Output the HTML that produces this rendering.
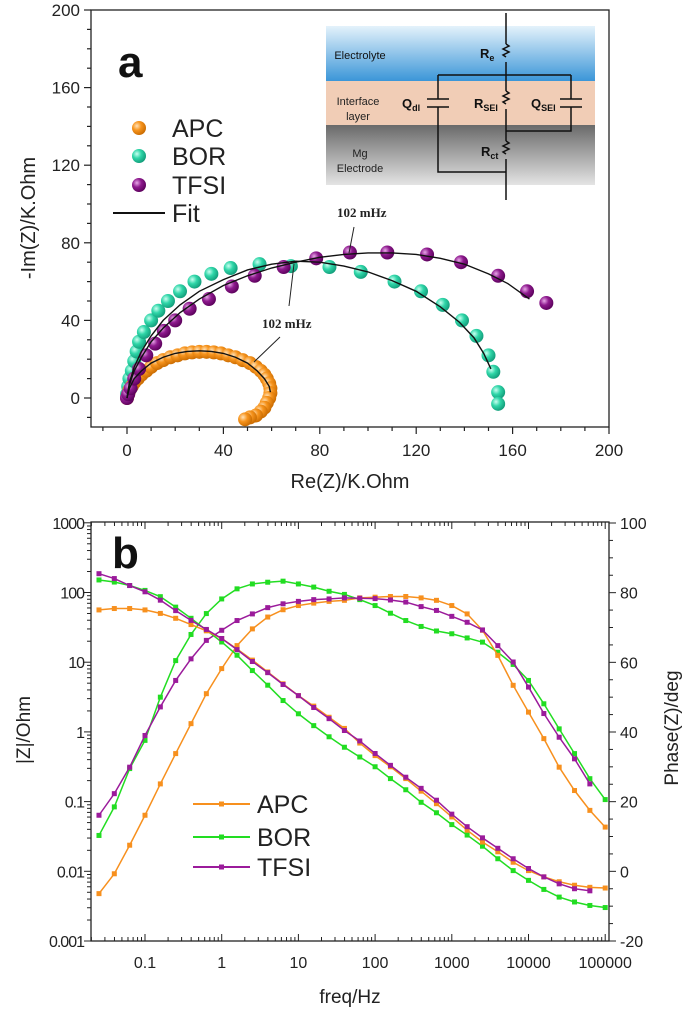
<!DOCTYPE html>
<html><head><meta charset="utf-8"><style>
body{margin:0;background:#fff}
svg{display:block;font-family:"Liberation Sans",sans-serif}
</style></head><body>
<svg id="fig" width="685" height="1010" viewBox="0 0 685 1010">
<defs>
<radialGradient id="gA" cx="0.35" cy="0.35" r="0.7"><stop offset="0" stop-color="#ffe2b8"/><stop offset="0.45" stop-color="#f7941d"/><stop offset="1" stop-color="#c86a00"/></radialGradient>
<radialGradient id="gB" cx="0.35" cy="0.35" r="0.7"><stop offset="0" stop-color="#c8fff0"/><stop offset="0.45" stop-color="#2fd6a8"/><stop offset="1" stop-color="#119a78"/></radialGradient>
<radialGradient id="gT" cx="0.35" cy="0.35" r="0.7"><stop offset="0" stop-color="#e8a8e8"/><stop offset="0.45" stop-color="#8e1a8e"/><stop offset="1" stop-color="#5a005a"/></radialGradient>
<linearGradient id="elec" x1="0" y1="0" x2="0" y2="1"><stop offset="0" stop-color="#e4f2fb"/><stop offset="1" stop-color="#3b96d8"/></linearGradient>
<linearGradient id="mg" x1="0" y1="0" x2="0" y2="1"><stop offset="0" stop-color="#6a6a6a"/><stop offset="1" stop-color="#e4e4e4"/></linearGradient>
</defs>
<g id="topPanel"></g>
<g id="botPanel"></g>
</svg>
<script>
// ---------- Nyquist data (panel a) ----------
const apcRe=[0,0.5,1,2,3,4.5,6,8,10,12.5,15,18,21,24,27,30,33,36,39,42,45,48,51,53.5,55.5,57,58,59,59.5,59.5,59,58,57,55.5,53.5,51,49];
const apcIm=[0,2,4,6,8,10,12,14,16,18,19.5,21,22,23,23.5,23.8,23.8,23.5,23,22,21,19.5,18,16,14,12,10,7.5,5,2.5,0,-2.5,-5,-7,-9,-10,-11];
const borRe=[0,0.5,1,2,3,4,5,7,10,13,17,22,28,35,43,55,68,84,97,111,122,131,139,145,150,152,154,154];
const borIm=[2,6,10,14,19,24,29,34,40,45,50,55,60,64,67,69,68,67.5,65,60,55,48,40,32,22,13.5,3,-3];
const tfsiRe=[0,0.5,1.5,3,5,8,11.7,15.3,20,26,34,43.5,53,65,78.5,92.5,108,124.5,138.6,154,166,174];
const tfsiIm=[0,2,5,10,15,22,28,34.6,40,46,51,57.5,63,67.5,72,75,75,74,70,63,55,49];
const fitApcRe=[0,1,3,6,10,15,20,25,30,35,40,45,50,54,57,59,59.5];
const fitApcIm=[0,5,10,14,18,21,23,24,24.3,24,23,21,18,14,10,6,3];
const fitBorRe=[0,1,3,6,10,15,22,30,40,50,60,70,80,90,100,110,120,130,138,144,148,151];
const fitBorIm=[0,8,16,24,32,40,48,55,61,66,69,70.5,70,68,65,60.5,55,47,39,31,23,15];
const fitTfsiRe=[0,1,3,6,10,15,22,30,40,50,60,70,80,90,100,110,120,130,140,150,158,167];
const fitTfsiIm=[0,7,14,21,29,36,44,51,58,63,67,70,72.5,74,74.8,74.8,74,72,69,64,59,51];
const nyTicks=[0,40,80,120,160,200];

// ---------- Bode data (panel b) ----------
const logFreq=[-1.6,-1.4,-1.2,-1.0,-0.8,-0.6,-0.4,-0.2,0,0.2,0.4,0.6,0.8,1.0,1.2,1.4,1.6,1.8,2.0,2.2,2.4,2.6,2.8,3.0,3.2,3.4,3.6,3.8,4.0,4.2,4.4,4.6,4.8,5.0];
const apcLogZ=[1.75,1.77,1.77,1.75,1.70,1.63,1.54,1.45,1.34,1.19,1.03,0.86,0.69,0.52,0.37,0.21,0.05,-0.16,-0.34,-0.50,-0.67,-0.85,-1.03,-1.22,-1.41,-1.58,-1.72,-1.87,-1.99,-2.08,-2.15,-2.20,-2.23,-2.24];
const borLogZ=[2.18,2.15,2.10,2.03,1.94,1.79,1.63,1.46,1.29,1.10,0.88,0.67,0.45,0.26,0.09,-0.07,-0.22,-0.36,-0.50,-0.67,-0.83,-1.01,-1.16,-1.33,-1.48,-1.64,-1.82,-1.99,-2.13,-2.26,-2.37,-2.44,-2.49,-2.52];
const tfsiLogZ=[2.27,2.20,2.10,2.01,1.89,1.74,1.60,1.47,1.34,1.18,1.01,0.85,0.68,0.52,0.35,0.19,0.02,-0.13,-0.31,-0.48,-0.65,-0.81,-0.98,-1.18,-1.36,-1.52,-1.67,-1.82,-1.96,-2.08,-2.18,-2.25,-2.28];
const apcPhase=[-6.4,-0.7,7.5,16.1,25.1,33.8,42.4,51,58.2,64.8,69.6,73,75.1,76.3,77,77.5,77.8,78.5,78.7,78.9,78.9,78.5,77.8,76.3,73.9,69.2,62,53.4,45.7,38.1,29.9,23.2,17.5,12.7];
const borPhase=[10.3,18.5,29.5,37.6,50,60.5,68,74,78.2,81.1,82.5,83,83.3,82.5,81.6,80.4,79.5,78,76.3,74.1,72,70.3,69,68.2,67,65.8,62.9,59.4,54.8,48.1,40.9,33.8,26.6,20.6];
const tfsiPhase=[16.1,22.3,29.9,39,47.2,54.8,61,66.3,69.2,72,73.9,75.7,76.8,77.5,78,78.2,78.5,78.4,78.3,77.9,77.3,76,74.9,73.2,71.5,69.3,64.8,60.1,52.9,45.3,38.5,32.3,25.1];
const zTickLabels=["0.001","0.01","0.1","1","10","100","1000"];
const phTicks=[-20,0,20,40,60,80,100];
const fTickLabels=["0.1","1","10","100","1000","10000","100000"];

const NS="http://www.w3.org/2000/svg";
function mk(tag,attrs,parent,text){const e=document.createElementNS(NS,tag);for(const k in attrs)e.setAttribute(k,attrs[k]);if(text!==undefined)e.textContent=text;parent.appendChild(e);return e;}
const topG=document.getElementById('topPanel'), botG=document.getElementById('botPanel');

// ===== panel a =====
const ax=v=>127+v*2.41, ay=v=>398-v*1.94;
const inset=mk('g',{},topG);


mk('rect',{x:326,y:26,width:269,height:55,fill:'url(#elec)'},inset);
mk('rect',{x:326,y:81,width:269,height:44,fill:'#f1cdb6'},inset);
mk('rect',{x:326,y:125,width:269,height:60,fill:'url(#mg)'},inset);
mk('text',{x:360,y:59,'font-size':11,'text-anchor':'middle',fill:'#111'},inset,'Electrolyte');
mk('text',{x:358,y:105,'font-size':11,'text-anchor':'middle',fill:'#222'},inset,'Interface');
mk('text',{x:358,y:120,'font-size':11,'text-anchor':'middle',fill:'#222'},inset,'layer');
mk('text',{x:360,y:157,'font-size':11,'text-anchor':'middle',fill:'#222'},inset,'Mg');
mk('text',{x:360,y:172,'font-size':11,'text-anchor':'middle',fill:'#222'},inset,'Electrode');
const w={stroke:'#111','stroke-width':1.5,fill:'none'};
function zig(x,y){return `M${x},${y-9} l3,2 l-6,3 l6,3 l-6,3 l3,2`;}
mk('path',Object.assign({d:'M506,13 V44 M506,62 V91 M506,109 V141 M506,159 V200'},w),inset);
mk('path',Object.assign({d:zig(506,53)+' '+zig(506,100)+' '+zig(506,150)},w),inset);
mk('path',Object.assign({d:'M438,75 H571 M438,75 V99 M438,107 V172 H506 M571,75 V99 M571,107 V131 H506'},w),inset);
mk('path',Object.assign({d:'M427,99 H449 M427,107 H449 M560,99 H582 M560,107 H582'},w),inset);
function lab(x,y,m,s){const t=mk('text',{x:x,y:y,'font-size':13,'font-weight':'bold',fill:'#111'},inset,m);mk('tspan',{'font-size':9,dy:3},t,s);}
lab(480,58,'R','e');lab(402,108,'Q','dl');lab(474,108,'R','SEI');lab(531,108,'Q','SEI');lab(481,156,'R','ct');

const fa=mk('rect',{x:91,y:10,width:518,height:417,fill:'none',stroke:'#222','stroke-width':1.3},topG);


for(let v=-10;v<=200;v+=10){mk('line',{x1:ax(v),x2:ax(v),y1:427,y2:v%40==0?434:431,stroke:'#222','stroke-width':1.2},topG);}
for(let v=-10;v<=200;v+=10){mk('line',{x1:91,x2:v%40==0?84:87,y1:ay(v),y2:ay(v),stroke:'#222','stroke-width':1.2},topG);}
nyTicks.forEach(v=>{
 const t=mk('text',{x:ax(v),y:456,'font-size':17,'text-anchor':'middle',fill:'#222'},topG,String(v));
 
 
 const u=mk('text',{x:80,y:ay(v)+6,'font-size':17,'text-anchor':'end',fill:'#222'},topG,String(v));
 
 
});
const xt=mk('text',{x:350,y:488,'font-size':20,'text-anchor':'middle',fill:'#222'},topG,'Re(Z)/K.Ohm');


const yt=mk('text',{x:0,y:0,'font-size':20,'text-anchor':'middle',fill:'#222',transform:'translate(35,218) rotate(-90)'},topG,'-Im(Z)/K.Ohm');


const pa=mk('text',{x:118,y:77,'font-size':44,'font-weight':'bold',fill:'#111'},topG,'a');



function balls(xs,ys,grad,name){const g=mk('g',{},topG);
 
 
 xs.forEach((x,i)=>{mk('circle',{cx:ax(x),cy:ay(ys[i]),r:7,fill:grad},g);});}
function fit(xs,ys,name){const p=mk('polyline',{points:xs.map((x,i)=>ax(x)+','+ay(ys[i])).join(' '),fill:'none',stroke:'#111','stroke-width':1.4},topG);
 
 }
balls(borRe,borIm,'url(#gB)','bor-nyquist-points');
balls(apcRe,apcIm,'url(#gA)','apc-nyquist-points');
balls(tfsiRe,tfsiIm,'url(#gT)','tfsi-nyquist-points');
fit(fitApcRe,fitApcIm,'apc-fit-line');fit(fitBorRe,fitBorIm,'bor-fit-line');fit(fitTfsiRe,fitTfsiIm,'tfsi-fit-line');
const an1=mk('text',{x:337,y:217,'font-size':13,'font-weight':'bold','font-family':'Liberation Serif,serif',fill:'#222'},topG,'102 mHz');


const an2=mk('text',{x:262,y:328,'font-size':13,'font-weight':'bold','font-family':'Liberation Serif,serif',fill:'#222'},topG,'102 mHz');


mk('path',{d:'M354,227 L349,253 M294,264 L289,306 M280,337 L254,362',stroke:'#222','stroke-width':1,fill:'none'},topG);
const lg=mk('g',{},topG);


[['APC','url(#gA)',128],['BOR','url(#gB)',156],['TFSI','url(#gT)',185]].forEach(r=>{
 mk('circle',{cx:139,cy:r[2],r:7,fill:r[1]},lg);mk('text',{x:172,y:r[2]+9,'font-size':25,fill:'#222'},lg,r[0]);});
mk('line',{x1:113,x2:165,y1:213,y2:213,stroke:'#111','stroke-width':2},lg);
mk('text',{x:172,y:222,'font-size':25,fill:'#222'},lg,'Fit');

// ===== panel b =====
const bx=l=>221.7+l*76.7, by=l=>941-(l+3)*69.7, bp=p=>941-(p+20)*418/120;
const fb=mk('rect',{x:91,y:522,width:518,height:419,fill:'none',stroke:'#222','stroke-width':1.3},botG);


for(let d=-2;d<=5;d++){for(let m=1;m<10;m++){const l=d+Math.log10(m);const x=bx(l);if(x<91||x>609)continue;
 const len=m==1?7:4;mk('line',{x1:x,x2:x,y1:941,y2:941-len,stroke:'#222'},botG);mk('line',{x1:x,x2:x,y1:522,y2:522+len,stroke:'#222'},botG);}}
for(let d=-3;d<=3;d++){for(let m=1;m<10;m++){const l=d+Math.log10(m);if(l>3)continue;const y=by(l);
 mk('line',{x1:91,x2:m==1?84:87,y1:y,y2:y,stroke:'#222'},botG);}}
for(let p=-20;p<=100;p+=5){mk('line',{x1:609,x2:p%20==0?616:613,y1:bp(p),y2:bp(p),stroke:'#222'},botG);}
zTickLabels.forEach((s,i)=>{const t=mk('text',{x:84,y:by(i-3)+6,'font-size':16,'text-anchor':'end',fill:'#222','letter-spacing':-1},botG,s);
 
 });
phTicks.forEach(p=>{const t=mk('text',{x:620,y:bp(p)+6,'font-size':16,fill:'#222'},botG,String(p));
 
 });
fTickLabels.forEach((s,i)=>{const t=mk('text',{x:bx(i-1),y:968,'font-size':16,'text-anchor':'middle',fill:'#222'},botG,s);
 
 });
const ft=mk('text',{x:350,y:1003,'font-size':19,'text-anchor':'middle',fill:'#222'},botG,'freq/Hz');


const zt=mk('text',{x:0,y:0,'font-size':19,'text-anchor':'middle',fill:'#222',transform:'translate(30,730) rotate(-90)'},botG,'|Z|/Ohm');


const pt=mk('text',{x:0,y:0,'font-size':19,'text-anchor':'middle',fill:'#222',transform:'translate(678,728) rotate(-90)'},botG,'Phase(Z)/deg');


const pb=mk('text',{x:112,y:568,'font-size':44,'font-weight':'bold',fill:'#111'},botG,'b');



function series(vals,yf,col,name){const g=mk('g',{},botG);
 
 
 mk('polyline',{points:vals.map((v,i)=>bx(logFreq[i])+','+yf(v)).join(' '),fill:'none',stroke:col,'stroke-width':1.5},g);
 vals.forEach((v,i)=>{mk('rect',{x:bx(logFreq[i])-2.5,y:yf(v)-2.5,width:5,height:5,fill:col},g);});}
const cA='#f7901e',cB='#22dd22',cT='#9b1b9b';
series(borPhase,bp,cB,'bor-phase-series');series(apcPhase,bp,cA,'apc-phase-series');series(tfsiPhase,bp,cT,'tfsi-phase-series');
series(borLogZ,by,cB,'bor-impedance-series');series(apcLogZ,by,cA,'apc-impedance-series');series(tfsiLogZ,by,cT,'tfsi-impedance-series');
const lb=mk('g',{},botG);


[['APC',cA,804],['BOR',cB,837],['TFSI',cT,867]].forEach(r=>{
 mk('line',{x1:193,x2:250,y1:r[2],y2:r[2],stroke:r[1],'stroke-width':2},lb);
 mk('rect',{x:219,y:r[2]-2.5,width:5,height:5,fill:r[1]},lb);
 mk('text',{x:257,y:r[2]+9,'font-size':25,fill:'#222'},lb,r[0]);});
</script>
</body></html>
